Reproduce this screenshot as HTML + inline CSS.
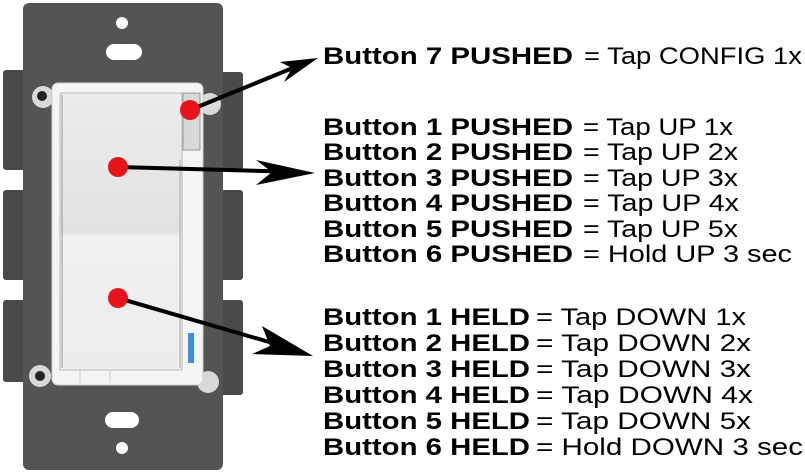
<!DOCTYPE html>
<html><head><style>html,body{margin:0;padding:0;background:#fff;width:805px;height:473px;overflow:hidden}</style></head>
<body>
<svg width="805" height="473" viewBox="0 0 805 473" xmlns="http://www.w3.org/2000/svg">
<defs>
<linearGradient id="rk" x1="0" y1="0" x2="0" y2="1"><stop offset="0" stop-color="#ececec"/><stop offset="0.5" stop-color="#e2e2e2"/><stop offset="0.52" stop-color="#f0f0f0"/><stop offset="1" stop-color="#ededed"/></linearGradient>
</defs>
<g fill="#4a4a4a">
<rect x="3" y="70" width="24" height="100" rx="3"/>
<rect x="3" y="190" width="24" height="90" rx="3"/>
<rect x="3" y="300" width="24" height="82" rx="3"/>
<rect x="220" y="72" width="23" height="98" rx="3"/>
<rect x="220" y="190" width="23" height="90" rx="3"/>
<rect x="220" y="300" width="23" height="95" rx="3"/>
</g>
<rect x="23" y="3" width="200" height="467" rx="6" fill="#545454"/>
<circle cx="122" cy="23" r="6" fill="#fff"/>
<rect x="106" y="44" width="36" height="16" rx="8" fill="#fff"/>
<rect x="105" y="412" width="34" height="16" rx="8" fill="#fff"/>
<circle cx="122" cy="448" r="6" fill="#fff"/>
<g fill="#d9d9d9"><circle cx="43" cy="97" r="11"/><circle cx="210" cy="104" r="11"/><circle cx="40" cy="376" r="11"/><circle cx="208" cy="382" r="11"/></g>
<g fill="#222"><circle cx="42" cy="96" r="5"/><circle cx="40" cy="376" r="5"/></g>
<rect x="52" y="83" width="151" height="302" rx="6" fill="#f4f4f4" stroke="#d0d0d0"/>
<rect x="60" y="93" width="122" height="277" fill="url(#rk)" stroke="#bdbdbd"/>
<line x1="180" y1="160" x2="180" y2="368" stroke="#aaa"/>
<line x1="62" y1="95" x2="62" y2="368" stroke="#999"/>
<rect x="183" y="93" width="17" height="57" fill="#d8d8d8" stroke="#999"/>
<rect x="188" y="333" width="6" height="30" fill="#3a8fe0"/>
<line x1="80" y1="370" x2="80" y2="383" stroke="#ccc"/><line x1="110" y1="370" x2="110" y2="383" stroke="#ccc"/>
<g stroke="#000" stroke-width="4" fill="none">
<line x1="190" y1="110" x2="305" y2="63"/>
<line x1="118" y1="167" x2="300" y2="172"/>
<line x1="118" y1="298" x2="300" y2="351"/>
</g>
<g fill="#000">
<path d="M318,58 L284,82 L292,68 L280,62 Z"/>
<path d="M315,173 L256,185 L272,172 L256,160 Z"/>
<path d="M313,356 L252,354 L270,346 L262,326 Z"/>
</g>
<g fill="#e8141c"><circle cx="190" cy="110" r="10"/><circle cx="118" cy="167" r="10"/><circle cx="118" cy="298" r="10"/></g>
<g font-family="Liberation Sans, sans-serif" font-size="24" fill="#000">
<g font-weight="bold">
<text x="323" y="64" textLength="250" lengthAdjust="spacingAndGlyphs">Button 7 PUSHED</text>
<text x="323" y="135" textLength="250" lengthAdjust="spacingAndGlyphs">Button 1  PUSHED</text>
<text x="323" y="160" textLength="250" lengthAdjust="spacingAndGlyphs">Button 2 PUSHED</text>
<text x="323" y="186" textLength="250" lengthAdjust="spacingAndGlyphs">Button 3 PUSHED</text>
<text x="323" y="211" textLength="250" lengthAdjust="spacingAndGlyphs">Button 4 PUSHED</text>
<text x="323" y="237" textLength="250" lengthAdjust="spacingAndGlyphs">Button 5 PUSHED</text>
<text x="323" y="262" textLength="250" lengthAdjust="spacingAndGlyphs">Button 6 PUSHED</text>
<text x="323" y="325" textLength="207" lengthAdjust="spacingAndGlyphs">Button 1  HELD</text>
<text x="323" y="351" textLength="207" lengthAdjust="spacingAndGlyphs">Button 2 HELD</text>
<text x="323" y="377" textLength="207" lengthAdjust="spacingAndGlyphs">Button 3 HELD</text>
<text x="323" y="403" textLength="207" lengthAdjust="spacingAndGlyphs">Button 4 HELD</text>
<text x="323" y="429" textLength="207" lengthAdjust="spacingAndGlyphs">Button 5 HELD</text>
<text x="323" y="455" textLength="207" lengthAdjust="spacingAndGlyphs">Button 6 HELD</text>
</g>
<text x="584" y="64" textLength="218" lengthAdjust="spacingAndGlyphs">= Tap CONFIG 1x</text>
<text x="583" y="135" textLength="150" lengthAdjust="spacingAndGlyphs">= Tap UP 1x</text>
<text x="583" y="160" textLength="155" lengthAdjust="spacingAndGlyphs">= Tap UP 2x</text>
<text x="583" y="186" textLength="155" lengthAdjust="spacingAndGlyphs">= Tap UP 3x</text>
<text x="583" y="211" textLength="156" lengthAdjust="spacingAndGlyphs">= Tap UP 4x</text>
<text x="583" y="237" textLength="155" lengthAdjust="spacingAndGlyphs">= Tap UP 5x</text>
<text x="583" y="262" textLength="209" lengthAdjust="spacingAndGlyphs">= Hold UP 3 sec</text>
<text x="536" y="325" textLength="210" lengthAdjust="spacingAndGlyphs">= Tap DOWN 1x</text>
<text x="536" y="351" textLength="215" lengthAdjust="spacingAndGlyphs">= Tap DOWN 2x</text>
<text x="536" y="377" textLength="215" lengthAdjust="spacingAndGlyphs">= Tap DOWN 3x</text>
<text x="536" y="403" textLength="217" lengthAdjust="spacingAndGlyphs">= Tap DOWN 4x</text>
<text x="536" y="429" textLength="215" lengthAdjust="spacingAndGlyphs">= Tap DOWN 5x</text>
<text x="536" y="455" textLength="267" lengthAdjust="spacingAndGlyphs">= Hold DOWN 3 sec</text>
</g>
</svg>
</body></html>
